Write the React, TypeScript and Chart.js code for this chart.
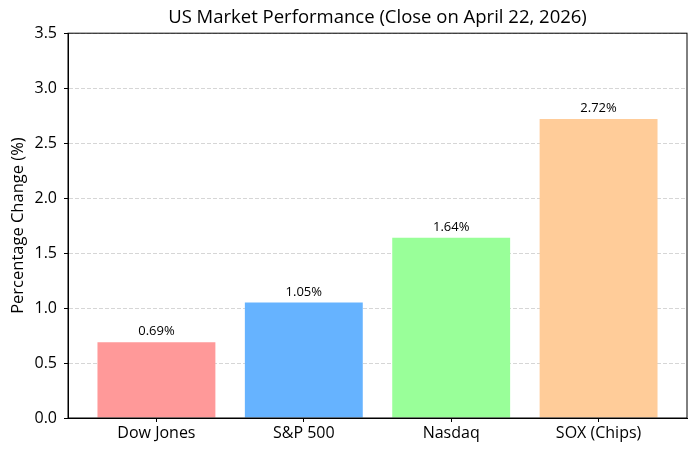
import React, { useEffect, useRef } from "react";
import { Chart, registerables } from "chart.js";

Chart.register(...registerables);

const categories = ["Dow Jones", "S&P 500", "Nasdaq", "SOX (Chips)"];
const changes = [0.69, 1.05, 1.64, 2.72];
const barColors = ["#ff9999", "#66b3ff", "#99ff99", "#ffcc99"];
const yTicks = [0, 0.5, 1.0, 1.5, 2.0, 2.5, 3.0, 3.5];

const FONT = "'Open Sans', 'Noto Sans', sans-serif";

const framePlugin = {
  id: "frame",
  afterDraw(chart: any) {
    const { ctx, chartArea } = chart;
    ctx.save();
    ctx.strokeStyle = "#000";
    ctx.lineWidth = 1;
    ctx.strokeRect(chartArea.left, chartArea.top, chartArea.right - chartArea.left, chartArea.bottom - chartArea.top);
    ctx.restore();
  },
};

const labelPlugin = {
  id: "barLabels",
  afterDatasetsDraw(chart: any) {
    const { ctx } = chart;
    const meta = chart.getDatasetMeta(0);
    ctx.save();
    ctx.fillStyle = "#000";
    ctx.font = `13px ${FONT}`;
    ctx.textAlign = "center";
    ctx.textBaseline = "bottom";
    meta.data.forEach((el: any, i: number) => {
      ctx.fillText(`${changes[i].toFixed(2)}%`, el.x, el.y - 4);
    });
    ctx.restore();
  },
};

export default function App() {
  const ref = useRef<HTMLCanvasElement>(null);
  useEffect(() => {
    document.body.style.margin = "0";
    if (!ref.current) return;
    const chart = new Chart(ref.current, {
      type: "bar",
      data: {
        datasets: [
          {
            data: changes.map((v, i) => ({ x: i, y: v })),
            backgroundColor: barColors,
            barPercentage: 0.8,
            categoryPercentage: 1.0,
          },
        ],
      },
      options: {
        animation: false,
        responsive: true,
        maintainAspectRatio: false,
        layout: { padding: { left: 0, right: 11, top: 0, bottom: 0 } },
        plugins: {
          legend: { display: false },
          tooltip: { enabled: false },
          title: {
            display: true,
            fullSize: false,
            text: "US Market Performance (Close on April 22, 2026)",
            color: "#000",
            font: { family: FONT, size: 18.5, weight: "normal" },
            padding: { top: 7, bottom: 4 },
          },
        },
        scales: {
          x: {
            type: "linear",
            min: -0.6,
            max: 3.6,
            offset: false,
            afterFit: (s: any) => {
              s.height = 37;
            },
            afterBuildTicks: (s: any) => {
              s.ticks = categories.map((_, i) => ({ value: i }));
            },
            ticks: {
              color: "#000",
              font: { family: FONT, size: 16 },
              padding: 2,
              maxRotation: 0,
              autoSkip: false,
              callback: (v: any) => categories[Math.round(Number(v))] ?? "",
            },
            grid: {
              offset: false,
              drawOnChartArea: false,
              drawTicks: true,
              tickLength: 4,
              tickColor: "#000",
              tickWidth: 1,
            },
            border: { display: true, color: "#000", width: 1 },
          },
          y: {
            min: 0,
            max: 3.5,
            afterFit: (s: any) => {
              s.width = 68;
            },
            afterBuildTicks: (s: any) => {
              s.ticks = yTicks.map((v) => ({ value: v }));
            },
            title: {
              display: true,
              text: "Percentage Change (%)",
              color: "#000",
              font: { family: FONT, size: 16.5 },
              padding: { top: 8, bottom: 0 },
            },
            ticks: {
              color: "#000",
              font: { family: FONT, size: 16 },
              padding: 7,
              callback: (v: any) => Number(v).toFixed(1),
            },
            grid: {
              color: "rgba(176,176,176,0.65)",
              lineWidth: 0.8,
              drawTicks: true,
              tickLength: 4,
              tickColor: "#000",
              tickWidth: 1,
              tickBorderDash: [],
            },
            border: { display: true, color: "#000", width: 1, dash: [4, 2] },
          },
        },
      },
      plugins: [framePlugin, labelPlugin],
    });
    return () => chart.destroy();
  }, []);
  return (
    <div style={{ width: 698, height: 455, position: "relative", background: "#fff" }}>
      <canvas ref={ref} />
    </div>
  );
}
